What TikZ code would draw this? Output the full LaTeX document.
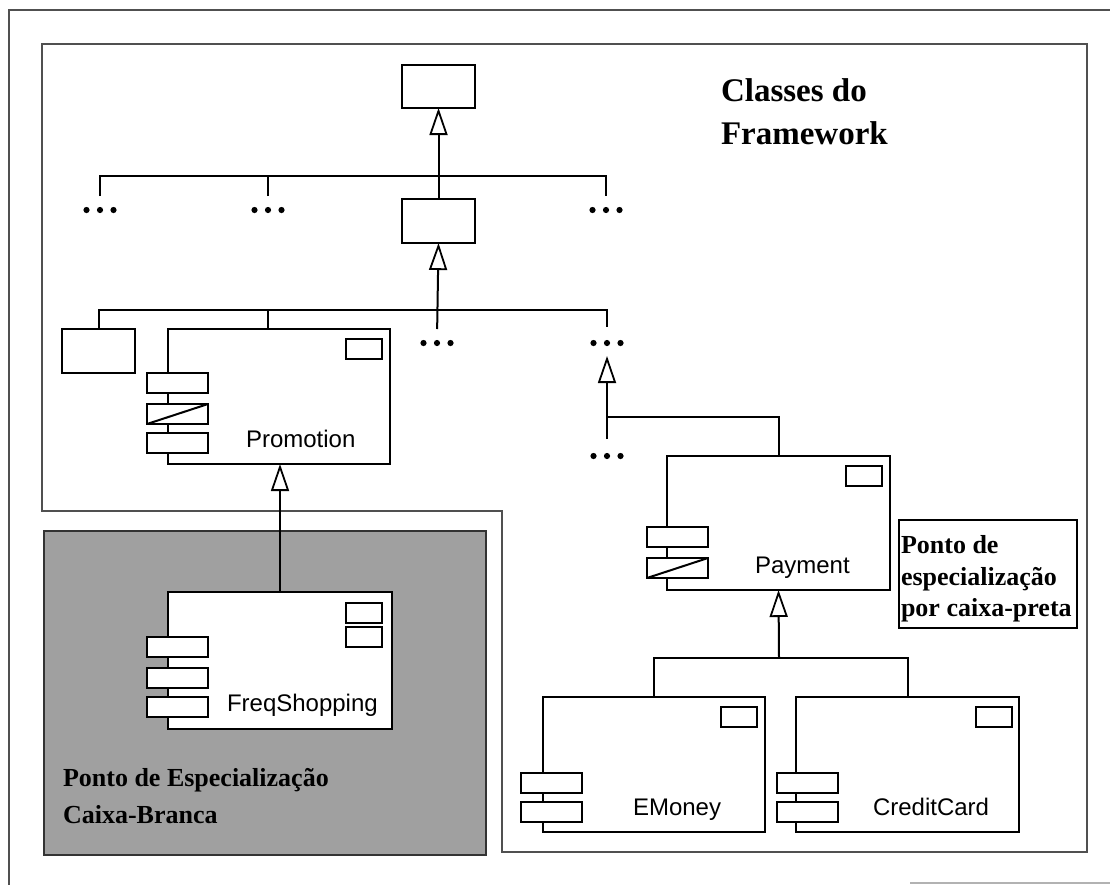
\documentclass[tikz,border=0pt]{standalone}
\usepackage{fontspec}
\setmainfont{Liberation Serif}
\setsansfont{Liberation Sans}
\usetikzlibrary{arrows.meta}
\definecolor{shade}{RGB}{160,160,160}
\definecolor{framegray}{RGB}{80,80,80}

\begin{document}
\begin{tikzpicture}[x=1pt,y=-1pt,line width=2pt,
  cls/.style={draw, fill=white, anchor=north west, inner sep=0pt, outer sep=0pt},
  stub/.style={cls, minimum width=61pt, minimum height=20pt},
  flag/.style={cls, minimum width=36pt, minimum height=20pt},
  clsname/.style={font=\sffamily\fontsize{24}{28}\selectfont, anchor=base west, inner sep=0pt},
  notetext/.style={font=\bfseries\fontsize{26}{31.5}\selectfont, align=left, anchor=north west, inner sep=0pt},
  gen/.style={-{Triangle[open, length=27pt, width=18pt, line width=1.8pt]}},
  ellip/.style={minimum width=36pt, minimum height=8pt, inner sep=0pt,
    path picture={\foreach \i in {-1,0,1}
      \fill ([xshift=\i*13.5pt]path picture bounding box.center) circle (3.1pt);}},
  framepath/.style={draw=framegray, line width=2pt}
]
\useasboundingbox (0,0) rectangle (1110,884);

% outer sheet border and the framework frame
\draw[framepath] (1115,10) -- (9,10) -- (9,890);
\draw[framepath, draw=black!30] (910,883) -- (1115,883);
\draw[framepath] (42,44) -- (1087,44) -- (1087,852) -- (502,852) -- (502,511) -- (42,511) -- cycle;

% white-box specialization area
\node[draw=black!80, fill=shade, line width=2pt, anchor=north west, inner sep=0pt,
  minimum width=442pt, minimum height=324pt] (wbox) at (43,530) {};

% upper hierarchy
\node[cls, minimum width=73pt, minimum height=43pt] (top) at (402,65) {};
\node[cls, minimum width=73pt, minimum height=44pt] (mid) at (402,199) {};
\node[cls, minimum width=73pt, minimum height=44pt] (sq) at (62,329) {};

\node[ellip] (d1) at (100,210) {};
\node[ellip] (d2) at (268,210) {};
\node[ellip] (d3) at (606,210) {};
\node[ellip] (d4) at (437,343) {};
\node[ellip] (d5) at (607,343) {};
\node[ellip] (d6) at (607,456) {};

% Promotion
\node[cls, minimum width=222pt, minimum height=135pt] (promo) at (168,329) {};
\node[flag] (promoF) at (346,339) {};
\node[stub] (promoA) at (147,373) {};
\node[stub] (promoB) at (147,404) {};
\node[stub] (promoC) at (147,433) {};
\draw (promoB.south west) -- (promoB.north east);
\node[clsname] (promoN) at (245,447) {Promotion};

% Payment
\node[cls, minimum width=223pt, minimum height=134pt] (pay) at (667,456) {};
\node[flag] (payF) at (846,466) {};
\node[stub] (payA) at (647,527) {};
\node[stub] (payB) at (647,558) {};
\draw (payB.south west) -- (payB.north east);
\node[clsname] (payN) at (754,573) {Payment};

% FreqShopping
\node[cls, minimum width=224pt, minimum height=137pt] (freq) at (168,592) {};
\node[flag] (freqF1) at (346,603) {};
\node[flag] (freqF2) at (346,627) {};
\node[stub] (freqA) at (147,637) {};
\node[stub] (freqB) at (147,668) {};
\node[stub] (freqC) at (147,697) {};
\node[clsname] (freqN) at (226,711) {FreqShopping};

% EMoney
\node[cls, minimum width=222pt, minimum height=135pt] (emoney) at (543,697) {};
\node[flag] (emoneyF) at (721,707) {};
\node[stub] (emoneyA) at (521,773) {};
\node[stub] (emoneyB) at (521,802) {};
\node[clsname] (emoneyN) at (632,815) {EMoney};

% CreditCard
\node[cls, minimum width=223pt, minimum height=135pt] (credit) at (796,697) {};
\node[flag] (creditF) at (976,707) {};
\node[stub] (creditA) at (777,773) {};
\node[stub] (creditB) at (777,802) {};
\node[clsname] (creditN) at (872,815) {CreditCard};

% generalization connectors
\coordinate (j1) at (437,176);
\draw[shorten <=9pt, shorten >=9pt] (d1.north) -- (d1.north |- j1) -- (d3.north |- j1) -- (d3.north);
\draw[shorten <=9pt] (d2.north) -- (d2.north |- j1);
\draw[gen] (mid.north) -- (top.south);

\coordinate (j2) at (437,310);
\draw[shorten >=11pt] (sq.north) -- (sq.north |- j2) -- (d5.north |- j2) -- (d5.north);
\draw ([xshift=-11pt]promo.north) -- ([xshift=-11pt]promo.north |- j2);
\draw[gen, shorten <=9pt] (d4.north) -- (mid.south);

\coordinate (j3) at (607,417);
\draw[gen, shorten <=12pt, shorten >=8pt] (d6.north) -- (d5.south);
\draw (pay.north) |- (j3);

\draw[gen] (freq.north) -- (freq.north |- promo.south);

\coordinate (j4) at (779,658);
\draw (emoney.north) |- (j4) -| (credit.north);
\draw[gen] (j4) -- (pay.south);

% annotations
\node[notetext, font=\bfseries\fontsize{33}{43}\selectfont] (title) at (720,77.5) {Classes do\\Framework};
\node[draw, line width=1.8pt, anchor=north west, inner sep=0pt,
  minimum width=178pt, minimum height=108pt] (bbox) at (898,519) {};
\node[notetext] (btext) at (900,534.5) {Ponto de\\especialização\\por caixa-preta};
\node[notetext, font=\bfseries\fontsize{26}{37}\selectfont] (wtext) at (62,767) {Ponto de Especialização\\Caixa-Branca};
\end{tikzpicture}
\end{document}
